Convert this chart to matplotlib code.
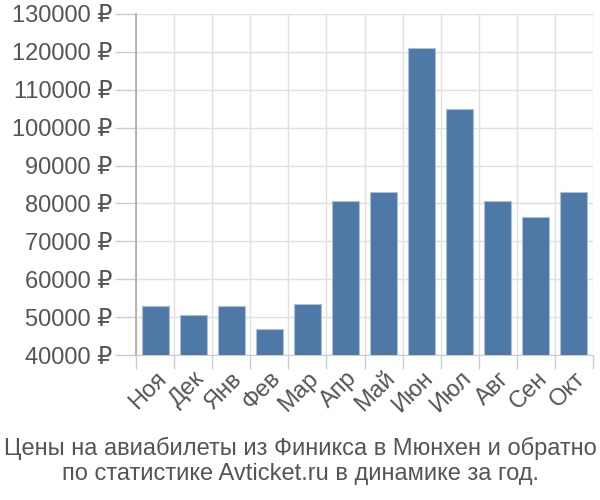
import matplotlib
matplotlib.use("Agg")
import matplotlib.pyplot as plt
from matplotlib.ticker import FuncFormatter, FixedLocator

plt.rcParams['font.family'] = ['Liberation Sans', 'DejaVu Sans']

months = ["Ноя", "Дек", "Янв", "Фев", "Мар", "Апр", "Май", "Июн", "Июл", "Авг", "Сен", "Окт"]
prices = [52850, 50560, 53030, 46950, 53470, 80760, 83130, 120900, 105050, 80760, 76530, 83130]
yticks = list(range(40000, 130001, 10000))
caption = "Цены на авиабилеты из Финикса в Мюнхен и обратно\nпо статистике Avticket.ru в динамике за год."

fig = plt.figure(figsize=(6, 5), dpi=100)
ax = fig.add_axes([0.227, 0.29, 0.761, 0.682])

x = list(range(len(months)))
ax.bar(x, prices, width=0.72, color="#4e79a7", edgecolor="#a9bfd6", linewidth=0.8, zorder=3)

ax.set_ylim(40000, 130000)
ax.set_xlim(-0.5, len(months) - 0.5)
ax.set_yticks(yticks)
ax.yaxis.set_major_formatter(FuncFormatter(lambda v, p: f"{int(v)} ₽"))

ax.set_xticks(x)
ax.set_xticklabels(months, rotation=45, ha="right", rotation_mode="anchor")
ax.xaxis.set_minor_locator(FixedLocator([i - 0.5 for i in range(len(months) + 1)]))
ax.tick_params(axis="x", which="major", length=0, pad=9)
ax.tick_params(axis="x", which="minor", length=10, color="#cccccc", width=1)
ax.tick_params(axis="y", length=15, color="#cccccc", width=1, pad=2)
ax.tick_params(labelsize=17, labelcolor="#555555")

ax.grid(True, which="minor", axis="x", color="#e0e0e0", linewidth=1, zorder=0)
ax.grid(True, which="major", axis="y", color="#e0e0e0", linewidth=1, zorder=0)

for s in ["top", "right"]:
    ax.spines[s].set_visible(False)
ax.spines["left"].set_color("#aaaaaa")
ax.spines["bottom"].set_color("#cccccc")
ax.spines["left"].set_linewidth(1.2)

fig.text(0.5, 0.03, caption, ha="center", va="bottom", fontsize=17, color="#555555", linespacing=1.2)

fig.savefig("out.png", dpi=100)
